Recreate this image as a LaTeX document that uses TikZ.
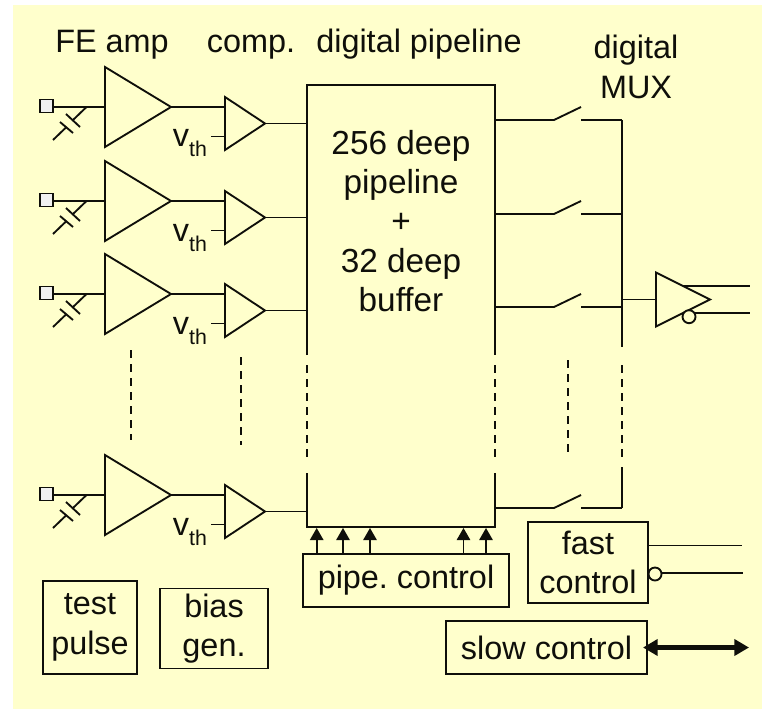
\documentclass[tikz,border=0pt]{standalone}
\usepackage{fontspec}
\setmainfont{Liberation Sans}
\usepackage{tikz}
\usetikzlibrary{arrows.meta, shapes.geometric, positioning}
\definecolor{chipyellow}{RGB}{255, 255, 204}
\definecolor{padgrey}{RGB}{240, 240, 240}
\definecolor{inkblack}{RGB}{15, 15, 10}
\frenchspacing

\begin{document}
\begin{tikzpicture}[x=0.75pt, y=-0.75pt, line width=1.4pt, color=inkblack,
        label/.style={font=\fontsize{24.3}{29.5}\selectfont, align=center, inner sep=0pt},
        box/.style={draw, label, line width=1.2pt, outer sep=0pt},
        amp/.style={draw, shape=isosceles triangle, isosceles triangle stretches, inner sep=0pt,
                    outer sep=0pt, anchor=west, minimum width=80*0.75pt, minimum height=66*0.75pt},
        comp/.style={amp, minimum width=53*0.75pt, minimum height=40*0.75pt},
        buffer/.style={amp, minimum width=54*0.75pt, minimum height=54*0.75pt},
        pad/.style={draw, fill=padgrey, minimum size=13*0.75pt, inner sep=0pt, outer sep=0pt},
        bubble/.style={draw, circle, fill=chipyellow, minimum size=13*0.75pt, inner sep=0pt, outer sep=0pt},
        gapped/.style={dash pattern=on 6pt off 4.5pt}]
    \useasboundingbox (0,0) rectangle (762,709);
    \fill[chipyellow] (13,5) rectangle (762,709);

    \node[label, anchor=base] (feamp) at (112,53) {FE amp};
    \node[label, anchor=base] (comphead) at (251,53) {comp.};
    \node[label, anchor=base] (pipehead) at (419,53) {digital pipeline};
    \node[label] (muxhead) at (636,67) {digital\\MUX};

    \node[minimum width=188*0.75pt, minimum height=442*0.75pt, inner sep=0pt, outer sep=0pt] (pipeline) at (401,306) {};
    \node[label, font=\fontsize{25}{29.5}\selectfont] (pipetext) at (401,221) {256 deep\\pipeline\\+\\32 deep\\buffer};
    \draw (pipeline.west |- 0,355) -- (pipeline.north west) -- (pipeline.north east) -- (pipeline.east |- 0,355);
    \draw (pipeline.west |- 0,473) -- (pipeline.south west) -- (pipeline.south east) -- (pipeline.east |- 0,473);
    \draw[gapped] (pipeline.west |- 0,365) -- (pipeline.west |- 0,462);
    \draw[gapped] (pipeline.east |- 0,365) -- (pipeline.east |- 0,462);

    \coordinate (bus) at (622,300);
    \foreach \row/\ya/\ys in {a/107/120, b/201/214, c/294/307, d/495/508} {
        \node[pad] (pad\row) at (46.5,\ya-1) {};
        \node[amp] (amp\row) at (105,\ya) {};
        \node[comp] (comp\row) at (225,\ya+16.5) {};
        \node[label, anchor=base west] (vth\row) at (172,\ya+40)
              {v\raisebox{-7.5pt}{\fontsize{16}{16}\selectfont th}};
        \coordinate (stub\row) at (211,\ya+29.5);
        \coordinate (lead\row) at (86.5,\ya);
        \draw (pad\row.east |- lead\row) -- (amp\row.west);
        \draw (lead\row) -- ++(-13.5,13);
        \draw (66,\ya+7) -- (80,\ya+20);
        \draw (60,\ya+15) -- (73,\ya+26);
        \draw (66.5,\ya+20) -- ++(-13.5,13);
        \draw (amp\row.apex) -- (amp\row.apex -| comp\row.west);
        \draw (stub\row) -- (stub\row -| comp\row.west);
        \draw (comp\row.apex) -- (comp\row.apex -| pipeline.west);
        \coordinate (swin\row) at (554,\ys);
        \coordinate (swout\row) at (581,\ys);
        \draw (swin\row -| pipeline.east) -- (swin\row) -- ++(27,-13);
        \draw (swout\row) -- (swout\row -| bus);
    }

    \draw (swouta -| bus) -- (bus |- 0,347);
    \draw[gapped] (bus |- 0,365) -- (bus |- 0,460);
    \draw (bus |- 0,467) -- (swoutd -| bus);
    \draw[gapped, line width=1.2pt] (131,350) -- (131,440);
    \draw[gapped, line width=1.2pt] (241,357) -- (241,445);
    \draw[gapped, line width=1.2pt] (568,360) -- (568,454);

    \node[buffer] (outbuf) at (656,299.5) {};
    \draw (bus |- outbuf.west) -- (outbuf.west);
    \coordinate (outhi) at (683,286);
    \coordinate (outlo) at (750,313);
    \node[bubble] (outbubble) at (689,316.7) {};
    \draw (outhi) -- (750,286);
    \draw (695,313) -- (outlo);

    \node[box, minimum width=206*0.75pt, minimum height=53*0.75pt] (pipectrl) at (406,580.5) {pipe. control};
    \foreach \ax in {316.7, 343, 370, 463.5, 486} {
        \draw[-{Triangle[length=9pt, width=10pt]}, line width=1.2pt] (\ax,553.7) -- (\ax,528);
    }

    \node[box, minimum width=120*0.75pt, minimum height=81*0.75pt] (fastctrl) at (588,562.5) {fast\\control};
    \node[bubble] (fastbubble) at (655,574) {};
    \coordinate (fasthi) at (742,545.5);
    \coordinate (fastlo) at (743,573);
    \draw[line width=1.2pt] (fasthi -| fastctrl.east) -- (fasthi);
    \draw[line width=1.2pt] (fastbubble.east |- fastlo) -- (fastlo);

    \node[box, minimum width=201*0.75pt, minimum height=53*0.75pt] (slowctrl) at (546.5,647.5) {slow control};
    \coordinate (slowend) at (749,647.5);
    \draw[{Triangle[length=11pt, width=12pt]}-{Triangle[length=11pt, width=12pt]}, line width=3.4pt, shorten <=-3pt] (slowctrl.east) -- (slowend);

    \node[box, minimum width=94*0.75pt, minimum height=93*0.75pt] (testpulse) at (90,627.5) {test\\pulse};
    \node[box, minimum width=108*0.75pt, minimum height=80*0.75pt] (biasgen) at (214,628.5) {bias\\gen.};
\end{tikzpicture}
\end{document}
